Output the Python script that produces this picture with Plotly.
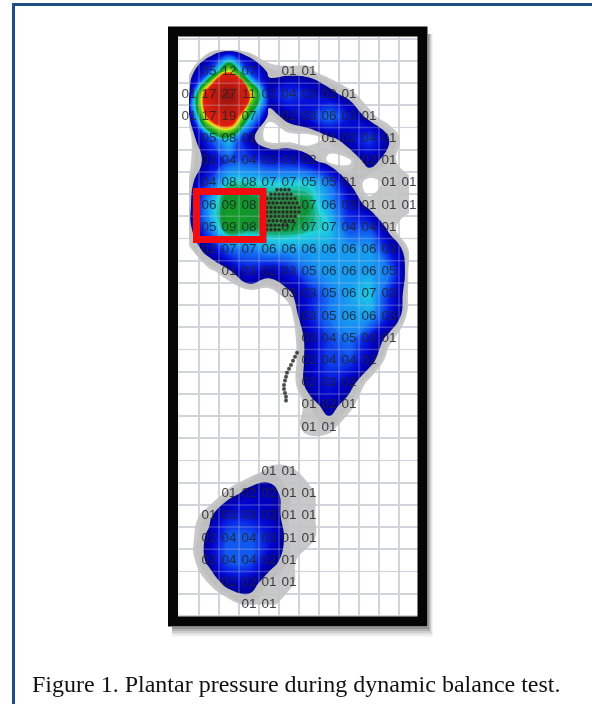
import plotly.graph_objects as go

# Sensor counts printed in each cell (0 = no label). 26 rows x 12 columns.
printed_counts = [
    [0, 0, 0, 0, 0, 0, 0, 0, 0, 0, 0, 0],
    [0, 5, 12, 7, 0, 1, 1, 0, 0, 0, 0, 0],
    [1, 17, 27, 11, 2, 4, 3, 2, 1, 0, 0, 0],
    [1, 17, 19, 7, 0, 2, 3, 6, 3, 1, 0, 0],
    [0, 5, 8, 1, 0, 0, 0, 1, 2, 4, 1, 0],
    [0, 2, 4, 4, 3, 3, 2, 0, 0, 2, 1, 0],
    [0, 4, 8, 8, 7, 7, 5, 5, 1, 0, 1, 1],
    [0, 6, 9, 8, 0, 0, 7, 6, 3, 1, 1, 1],
    [0, 5, 9, 8, 0, 7, 7, 7, 4, 4, 1, 0],
    [0, 2, 7, 7, 6, 6, 6, 6, 6, 6, 3, 0],
    [0, 0, 1, 3, 2, 3, 5, 6, 6, 6, 5, 0],
    [0, 0, 0, 0, 0, 3, 3, 5, 6, 7, 3, 0],
    [0, 0, 0, 0, 0, 0, 3, 5, 6, 6, 3, 0],
    [0, 0, 0, 0, 0, 0, 3, 4, 5, 3, 1, 0],
    [0, 0, 0, 0, 0, 0, 2, 4, 4, 2, 0, 0],
    [0, 0, 0, 0, 0, 0, 2, 3, 2, 0, 0, 0],
    [0, 0, 0, 0, 0, 0, 1, 2, 1, 0, 0, 0],
    [0, 0, 0, 0, 0, 0, 1, 1, 0, 0, 0, 0],
    [0, 0, 0, 0, 0, 0, 0, 0, 0, 0, 0, 0],
    [0, 0, 0, 0, 1, 1, 0, 0, 0, 0, 0, 0],
    [0, 0, 1, 2, 2, 1, 1, 0, 0, 0, 0, 0],
    [0, 1, 3, 3, 2, 1, 1, 0, 0, 0, 0, 0],
    [0, 2, 4, 4, 3, 1, 1, 0, 0, 0, 0, 0],
    [0, 2, 4, 4, 2, 1, 0, 0, 0, 0, 0, 0],
    [0, 0, 2, 2, 1, 1, 0, 0, 0, 0, 0, 0],
    [0, 0, 0, 1, 1, 0, 0, 0, 0, 0, 0, 0],
]

# Pressure level estimated from the colours of each cell.
pressure_levels = [
    [0.1, 0.3, 0.8, 0.3, 0.1, 0.1, 0.1, 0, 0, 0, 0, 0],
    [0.7, 4, 13, 4, 1.2, 1.0, 1.0, 0.3, 0, 0, 0, 0],
    [1.1, 18, 27, 14, 2.5, 4, 3, 2, 1.0, 0.3, 0, 0],
    [1.1, 15, 19, 8, 0.9, 2, 3, 5, 3, 1.0, 0.3, 0],
    [0.3, 4, 7, 2, 0.3, 0.3, 0.2, 1.1, 2.2, 4, 1.5, 0.1],
    [0.6, 2, 4, 4, 3, 3, 2, 0.6, 0.6, 2, 1.0, 0.3],
    [0.8, 4, 7.3, 7.3, 7, 7, 7, 5, 1.5, 0.4, 1.0, 1.0],
    [1.0, 6, 9, 8.5, 8.4, 8.6, 8, 6, 3, 1.0, 1.0, 1.0],
    [1.0, 5, 9, 8.2, 8.2, 8.2, 7.6, 7, 4, 4, 1.0, 0.3],
    [0.7, 2, 4.5, 5, 6, 6, 6, 6, 6, 6, 3, 0.7],
    [0.2, 0.5, 1.2, 3, 2, 3, 5, 6, 6, 6, 5, 0.6],
    [0, 0, 0.1, 0.2, 0.3, 1.2, 3, 5, 6, 7, 3.5, 0.6],
    [0, 0, 0, 0, 0, 0.2, 3, 5, 6, 6, 3, 0.4],
    [0, 0, 0, 0, 0, 0.1, 2, 4, 5, 3, 1.0, 0.1],
    [0, 0, 0, 0, 0, 0, 2, 4, 4, 2, 0.3, 0],
    [0, 0, 0, 0, 0, 0.1, 2, 3, 2, 0.5, 0, 0],
    [0, 0, 0, 0, 0, 0.2, 1.0, 2, 1.0, 0.1, 0, 0],
    [0, 0, 0, 0, 0, 0.4, 1.0, 1.0, 0.3, 0, 0, 0],
    [0, 0, 0, 0, 0, 0, 0.3, 0.1, 0, 0, 0, 0],
    [0, 0, 0, 0.3, 1.0, 1.0, 0.4, 0, 0, 0, 0, 0],
    [0, 0.2, 1.0, 2, 2, 1.0, 1.0, 0.1, 0, 0, 0, 0],
    [0.3, 1.2, 3, 3, 2.2, 1.0, 1.0, 0.2, 0, 0, 0, 0],
    [0.4, 1.8, 4.5, 4.5, 3, 1.0, 1.0, 0.2, 0, 0, 0, 0],
    [0.3, 1.8, 4.5, 4.5, 2, 1.0, 0.3, 0, 0, 0, 0, 0],
    [0, 0.8, 2, 2, 1.0, 1.0, 0.1, 0, 0, 0, 0, 0],
    [0, 0, 0.3, 1.0, 1.0, 0.3, 0, 0, 0, 0, 0, 0],
]

column_centres = [i + 0.5 for i in range(12)]
row_centres = [i + 0.5 for i in range(26)]
grid_columns = list(range(13))
grid_rows = list(range(27))

# Centre-of-pressure trail: dense stipple under the forefoot, then the heel curl.
cop_x = [4.9, 5.1, 5.3, 5.5, 4.6, 4.8, 5.0, 5.2, 5.4, 5.6, 4.4, 4.6, 4.8, 5.0, 5.2, 5.4, 5.6, 5.8,
         4.3, 4.5, 4.7, 4.9, 5.1, 5.3, 5.5, 5.7, 5.9, 4.2, 4.4, 4.6, 4.8, 5.0, 5.2, 5.4, 5.6, 5.8, 6.0,
         4.2, 4.4, 4.6, 4.8, 5.0, 5.2, 5.4, 5.6, 5.8, 6.0, 4.2, 4.4, 4.6, 4.8, 5.0, 5.2, 5.4, 5.6, 5.8,
         4.3, 4.5, 4.7, 4.9, 5.1, 5.3, 5.5, 5.7, 4.2, 4.4, 4.6, 4.8, 5.0, 5.2, 5.4, 4.2, 4.4, 4.6, 4.8, 5.0,
         5.9, 5.8, 5.7, 5.6, 5.5, 5.4, 5.35, 5.3, 5.25, 5.25, 5.3, 5.35, 5.35]
cop_y = [6.8, 6.8, 6.8, 6.8, 7.0, 7.0, 7.0, 7.0, 7.0, 7.0, 7.2, 7.2, 7.2, 7.2, 7.2, 7.2, 7.2, 7.2,
         7.4, 7.4, 7.4, 7.4, 7.4, 7.4, 7.4, 7.4, 7.4, 7.6, 7.6, 7.6, 7.6, 7.6, 7.6, 7.6, 7.6, 7.6, 7.6,
         7.8, 7.8, 7.8, 7.8, 7.8, 7.8, 7.8, 7.8, 7.8, 7.8, 8.0, 8.0, 8.0, 8.0, 8.0, 8.0, 8.0, 8.0, 8.0,
         8.2, 8.2, 8.2, 8.2, 8.2, 8.2, 8.2, 8.2, 8.4, 8.4, 8.4, 8.4, 8.4, 8.4, 8.4, 8.6, 8.6, 8.6, 8.6, 8.6,
         14.15, 14.33, 14.5, 14.7, 14.87, 15.05, 15.23, 15.4, 15.6, 15.78, 15.96, 16.13, 16.3]

caption = "Figure 1. Plantar pressure during dynamic balance test."

ZMAX = 27.0
stops = [
    (0.0, "rgba(190,190,190,0)"), (0.45, "rgba(190,190,190,0)"), (0.46, "rgba(190,190,190,0.85)"),
    (1.3, "rgba(190,190,190,0.85)"), (1.31, "#00009c"), (2, "#0000c4"), (3, "#0818e0"),
    (4, "#1050ee"), (5, "#1680f4"), (6, "#18a8f0"), (7, "#1fd4dc"), (7.5, "#14a868"),
    (8, "#109030"), (9, "#14a020"), (11, "#70d020"), (12, "#e8e820"), (13, "#ff9000"),
    (14, "#e02010"), (19, "#c81c10"), (27, "#901410"),
]
colorscale = [[z / ZMAX, c] for z, c in stops]

W, H = 592, 704
L, R, T, B = 178, 418, 37, 617


def px(x):
    return (x - L) / (R - L)


def py(y):
    return (B - y) / (B - T)


def rect(x0, y0, x1, y1, fill=None, line=None, width=0, layer="above"):
    return dict(type="rect", xref="paper", yref="paper", x0=px(x0), x1=px(x1), y0=py(y0), y1=py(y1),
                fillcolor=fill or "rgba(0,0,0,0)", line=dict(color=line or "rgba(0,0,0,0)", width=width),
                layer=layer)


fig = go.Figure()
fig.add_trace(go.Contour(
    x=column_centres, y=row_centres, z=pressure_levels,
    zmin=0, zmax=ZMAX, zauto=False, colorscale=colorscale, showscale=False,
    contours=dict(coloring="fill", start=0.25, end=27, size=0.25, showlines=False),
    line=dict(width=0, smoothing=1.3), hoverinfo="skip",
))

gx, gy = [], []
for c in grid_columns:
    gx += [c, c, None]
    gy += [0, 26, None]
for r in grid_rows:
    gx += [0, 12, None]
    gy += [r, r, None]
fig.add_trace(go.Scatter(x=gx, y=gy, mode="lines", line=dict(color="rgba(205,210,225,0.28)", width=1.5),
                         hoverinfo="skip"))

fig.add_trace(go.Scatter(x=cop_x, y=cop_y, mode="markers",
                         marker=dict(size=4, color="rgba(20,30,20,0.8)",
                                     line=dict(color="rgba(150,160,150,0.6)", width=0.5)),
                         hoverinfo="skip"))

lx, ly, lt = [], [], []
for r, row in zip(row_centres, printed_counts):
    for c, v in zip(column_centres, row):
        if v:
            lx.append(c)
            ly.append(r)
            lt.append(f"{v:02d}")
fig.add_trace(go.Scatter(x=lx, y=ly, text=lt, mode="text",
                         textfont=dict(family="Liberation Sans", size=13.5, color="rgba(35,35,40,0.85)"),
                         textposition="middle center", hoverinfo="skip"))

shapes = []
# soft shadow strips below and to the right of the frame
for d, a in zip([2, 4, 6, 8, 10], [0.22, 0.17, 0.12, 0.08, 0.05]):
    shapes.append(rect(172, 627, 428 + d / 2, 627 + d, fill=f"rgba(40,40,40,{a})"))
    shapes.append(rect(428, 34, 428 + d / 2, 627, fill=f"rgba(40,40,40,{a})"))
# black frame
shapes.append(rect(173, 31.5, 422.5, 621.5, line="#050505", width=10))
# red selection box
shapes.append(rect(196.5, 191.5, 263, 239.5, line="#f00c10", width=7))
# page border
shapes.append(rect(13.5, 4.5, 700, 800, line="#1f4e84", width=3))

fig.update_layout(
    width=W, height=H,
    margin=dict(l=L, r=W - R, t=T, b=H - B, pad=0),
    paper_bgcolor="white", plot_bgcolor="white",
    showlegend=False, shapes=shapes,
    xaxis=dict(range=[-0.05, 11.95], dtick=1, tick0=0, showgrid=True, gridcolor="#d6d6d8", gridwidth=1.8,
               zeroline=False, showticklabels=False, ticks="", showline=False, fixedrange=True),
    yaxis=dict(range=[26.05, -0.08], dtick=1, tick0=0, showgrid=True, gridcolor="#d6d6d8", gridwidth=1.8,
               zeroline=False, showticklabels=False, ticks="", showline=False, fixedrange=True),
    annotations=[dict(xref="paper", yref="paper", x=px(30), y=py(684), xanchor="left", yanchor="middle",
                      text=caption, showarrow=False,
                      font=dict(family="Liberation Serif", size=24, color="#111111"))],
)

fig.write_html("out.html", config=dict(displayModeBar=False, staticPlot=True),
               post_script="document.body.style.margin='0';document.body.style.overflow='hidden';"
                           "document.querySelectorAll('.cartesianlayer').forEach(function(n){n.style.filter='blur(0.6px)';});")
